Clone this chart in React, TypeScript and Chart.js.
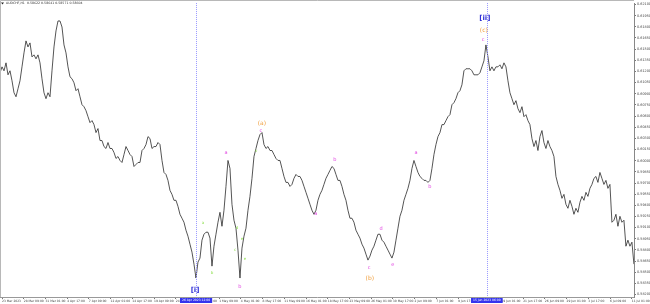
import React, { useEffect, useRef } from 'react';
import { Chart, registerables } from 'chart.js';

Chart.register(...registerables);

const SYMBOL_TITLE = 'AUDCHF,H1  0.58622 0.58641 0.58571 0.58604';

// time labels every 64 H1 bars, starting 23 Mar 2023 17:00 (bar 0)
const TIME_LABELS = [
  '23 Mar 2023', '28 Mar 09:00', '31 Mar 01:00', '4 Apr 17:00', '7 Apr 09:00', '12 Apr 01:00',
  '14 Apr 17:00', '19 Apr 09:00', '24 Apr 01:00', '26 Apr 17:00', '1 May 09:00', '4 May 01:00',
  '8 May 17:00', '11 May 09:00', '16 May 01:00', '18 May 17:00', '23 May 09:00', '26 May 01:00',
  '30 May 17:00', '2 Jun 09:00', '7 Jun 01:00', '9 Jun 17:00', '14 Jun 09:00', '19 Jun 01:00',
  '21 Jun 17:00', '26 Jun 09:00', '29 Jun 01:00', '3 Jul 17:00', '6 Jul 09:00', '11 Jul 01:00',
];
const BARS_PER_TIME_LABEL = 64;

// closing prices sampled every SAMPLE_STEP_BARS bars, first sample one step before bar 0
const SAMPLE_STEP_BARS = 5.894;
const PRICES = [
  0.61182, 0.61262, 0.61209, 0.61316, 0.61155, 0.61209, 0.61075, 0.60914, 0.60860, 0.60968,
  0.61075, 0.61262, 0.61450, 0.61611, 0.61530, 0.61584, 0.61396, 0.61423, 0.61370, 0.61423,
  0.61316, 0.61102, 0.60914, 0.60834, 0.60914, 0.60860, 0.61209, 0.61530, 0.61745, 0.61879,
  0.61879, 0.61798, 0.61557, 0.61450, 0.61262, 0.61128, 0.61102, 0.61048, 0.60941, 0.60968,
  0.60860, 0.60753, 0.60726, 0.60673, 0.60592, 0.60512, 0.60539, 0.60485, 0.60378, 0.60432,
  0.60271, 0.60271, 0.60190, 0.60164, 0.60244, 0.60164, 0.60164, 0.60110, 0.60030, 0.60056,
  0.60003, 0.59976, 0.60083, 0.60190, 0.60137, 0.60083, 0.60056, 0.59922, 0.59949, 0.59976,
  0.59976, 0.60137, 0.60164, 0.60217, 0.60324, 0.60298, 0.60164, 0.60190, 0.60190, 0.60244,
  0.60217, 0.60003, 0.59842, 0.59815, 0.59735, 0.59601, 0.59547, 0.59467, 0.59467, 0.59386,
  0.59279, 0.59226, 0.59172, 0.59065, 0.58984, 0.58877, 0.58770, 0.58609, 0.58422, 0.58636,
  0.58690, 0.58931, 0.59011, 0.59038, 0.59038, 0.58958, 0.58582, 0.58850, 0.59011, 0.59172,
  0.59306, 0.59118, 0.59333, 0.59654, 0.60003, 0.59896, 0.59413, 0.59199, 0.59092, 0.58797,
  0.58422, 0.58824, 0.58984, 0.59092, 0.59333, 0.59520, 0.59762, 0.60056, 0.60164, 0.60271,
  0.60351, 0.60378, 0.60217, 0.60164, 0.60190, 0.60137, 0.60137, 0.60083, 0.60030, 0.60003,
  0.60003, 0.59896, 0.59788, 0.59708, 0.59708, 0.59654, 0.59681, 0.59762, 0.59815, 0.59788,
  0.59788, 0.59735, 0.59654, 0.59574, 0.59494, 0.59413, 0.59333, 0.59279, 0.59333, 0.59467,
  0.59547, 0.59601, 0.59681, 0.59762, 0.59815, 0.59869, 0.59922, 0.59896, 0.59815, 0.59735,
  0.59735, 0.59654, 0.59547, 0.59467, 0.59333, 0.59226, 0.59226, 0.59172, 0.59065, 0.59011,
  0.58958, 0.58877, 0.58824, 0.58743, 0.58663, 0.58716, 0.58797, 0.58850, 0.58931, 0.59011,
  0.59011, 0.58931, 0.58904, 0.58850, 0.58797, 0.58743, 0.58690, 0.58770, 0.58931, 0.59092,
  0.59252, 0.59333, 0.59467, 0.59547, 0.59628, 0.59735, 0.59896, 0.60003, 0.59922, 0.59842,
  0.59788, 0.59762, 0.59735, 0.59735, 0.59708, 0.59735, 0.59896, 0.60083, 0.60217, 0.60324,
  0.60378, 0.60485, 0.60485, 0.60539, 0.60592, 0.60619, 0.60753, 0.60780, 0.60834, 0.60914,
  0.60941, 0.61021, 0.61209, 0.61236, 0.61236, 0.61236, 0.61209, 0.61155, 0.61155, 0.61155,
  0.61182, 0.61262, 0.61343, 0.61557, 0.61396, 0.61209, 0.61262, 0.61209, 0.61262, 0.61262,
  0.61289, 0.61236, 0.61316, 0.61262, 0.61075, 0.60914, 0.60834, 0.60753, 0.60807, 0.60700,
  0.60646, 0.60726, 0.60592, 0.60619, 0.60539, 0.60485, 0.60298, 0.60190, 0.60271, 0.60137,
  0.60324, 0.60405, 0.60244, 0.60164, 0.60271, 0.60190, 0.60137, 0.60056, 0.59788, 0.59681,
  0.59601, 0.59494, 0.59547, 0.59413, 0.59360, 0.59467, 0.59386, 0.59279, 0.59360, 0.59306,
  0.59440, 0.59520, 0.59467, 0.59574, 0.59520, 0.59628, 0.59681, 0.59762, 0.59788, 0.59708,
  0.59842, 0.59762, 0.59681, 0.59735, 0.59628, 0.59681, 0.59172, 0.59199, 0.59279, 0.59118,
  0.59252, 0.59172, 0.59199, 0.58850, 0.58931, 0.58850, 0.58904, 0.58609,
];

const PRICE_TICKS = [
  0.621, 0.6195, 0.618, 0.6165, 0.615, 0.6135, 0.612, 0.6105, 0.609, 0.6075, 0.606, 0.6045,
  0.603, 0.6015, 0.6, 0.5985, 0.597, 0.5955, 0.594, 0.5925, 0.591, 0.5895, 0.588, 0.5865,
  0.585, 0.5835, 0.582,
];

// vertical time markers (bar index) and their axis captions
const MARKER_BARS = [572, 1429];
const MARKER_CAPTIONS = ['26 Apr 2023 12:00', '15 Jun 2023 06:00'];

// Elliott wave labels
const WAVE_TEXT = ['[i]', '[ii]', '(c)', 'c', '(a)', 'c', 'v', 'a', 'a', 'b', 'c', 'd', 'e', 'e', 'b', 'a', 'b', 'c', '(b)', 'd', 'e', 'a', 'b'];
const WAVE_BAR = [569, 1423, 1420, 1418, 766, 763, 749, 660, 592, 619, 687, 693, 707, 716, 701, 925, 981, 1082, 1084, 1117, 1152, 1220, 1261];
const WAVE_PRICE = [0.58261, 0.61919, 0.61758, 0.61624, 0.60499, 0.60405, 0.60137, 0.60110, 0.59159, 0.58489, 0.58797, 0.59092, 0.58944, 0.58676, 0.58301, 0.59293, 0.60016, 0.58556, 0.58422, 0.59092, 0.58596, 0.60110, 0.59654];
const WAVE_DEGREE = ['primary', 'primary', 'intermediate', 'minor', 'intermediate', 'minor', 'minute', 'minor', 'minute', 'minute', 'minute', 'minute', 'minute', 'minute', 'minor', 'minor', 'minor', 'minor', 'intermediate', 'minor', 'minor', 'minor', 'minor'];

const DEGREE_STYLE: Record<string, { color: string; font: string }> = {
  primary: { color: '#2f2fd6', font: 'bold 7px "DejaVu Sans"' },
  intermediate: { color: '#f0a040', font: '6px "DejaVu Sans"' },
  minor: { color: '#e040e0', font: '5px "DejaVu Sans"' },
  minute: { color: '#8fe050', font: '4px "DejaVu Sans"' },
};

const overlayPlugin = {
  id: 'mt4Overlay',
  beforeDraw(chart: any) {
    const { ctx, width, height } = chart;
    ctx.save();
    ctx.fillStyle = '#ffffff';
    ctx.fillRect(0, 0, width, height);
    ctx.restore();
  },
  afterDatasetsDraw(chart: any) {
    const { ctx, chartArea } = chart;
    const xs = chart.scales.x;
    const ys = chart.scales.y;
    ctx.save();
    ctx.strokeStyle = '#9a9aff';
    ctx.lineWidth = 1;
    ctx.setLineDash([1, 1]);
    MARKER_BARS.forEach((b) => {
      const x = Math.round(xs.getPixelForValue(b)) + 0.5;
      ctx.beginPath();
      ctx.moveTo(x, chartArea.top);
      ctx.lineTo(x, chartArea.bottom);
      ctx.stroke();
    });
    ctx.setLineDash([]);
    ctx.textAlign = 'center';
    ctx.textBaseline = 'middle';
    WAVE_TEXT.forEach((t, i) => {
      const st = DEGREE_STYLE[WAVE_DEGREE[i]];
      ctx.font = st.font;
      ctx.fillStyle = st.color;
      ctx.fillText(t, xs.getPixelForValue(WAVE_BAR[i]), ys.getPixelForValue(WAVE_PRICE[i]));
    });
    ctx.restore();
  },
  afterDraw(chart: any) {
    const { ctx, chartArea } = chart;
    const xs = chart.scales.x;
    ctx.save();
    ctx.strokeStyle = '#b8b8b8';
    ctx.lineWidth = 1;
    ctx.beginPath();
    ctx.moveTo(chartArea.left + 0.5, chartArea.bottom);
    ctx.lineTo(chartArea.left + 0.5, 0.5);
    ctx.lineTo(chartArea.right, 0.5);
    ctx.stroke();
    ctx.fillStyle = '#222';
    ctx.beginPath();
    ctx.moveTo(1, 2.5);
    ctx.lineTo(4, 2.5);
    ctx.lineTo(2.5, 4.5);
    ctx.closePath();
    ctx.fill();
    ctx.font = '3.2px "DejaVu Sans"';
    ctx.textAlign = 'left';
    ctx.textBaseline = 'middle';
    ctx.fillStyle = '#333';
    ctx.fillText(SYMBOL_TITLE, 6, 3.6);
    ctx.font = '3px "DejaVu Sans"';
    ctx.textAlign = 'center';
    MARKER_BARS.forEach((b, i) => {
      const x = xs.getPixelForValue(b);
      const w = ctx.measureText(MARKER_CAPTIONS[i]).width + 4;
      ctx.fillStyle = '#3434ee';
      ctx.fillRect(x - w / 2, chartArea.bottom + 1, w, 5);
      ctx.fillStyle = '#ffffff';
      ctx.fillText(MARKER_CAPTIONS[i], x, chartArea.bottom + 3.6);
    });
    ctx.restore();
  },
};

export default function App() {
  const canvasRef = useRef<HTMLCanvasElement | null>(null);

  useEffect(() => {
    if (!canvasRef.current) return;
    const points = PRICES.map((p, i) => ({ x: (i - 1) * SAMPLE_STEP_BARS, y: p }));
    const chart = new Chart(canvasRef.current, {
      type: 'line',
      data: {
        datasets: [
          {
            data: points,
            borderColor: '#2a2a2a',
            borderWidth: 0.8,
            pointRadius: 0,
            tension: 0,
            fill: false,
          },
        ],
      },
      options: {
        animation: false,
        responsive: false,
        maintainAspectRatio: false,
        devicePixelRatio: 1,
        layout: { padding: { top: 2, left: 0, right: 0, bottom: 0 } },
        plugins: { legend: { display: false }, tooltip: { enabled: false }, title: { display: false } },
        scales: {
          x: {
            type: 'linear',
            position: 'bottom',
            min: -5.9,
            max: 1862.7,
            afterFit(s: any) {
              s.height = 7;
            },
            afterBuildTicks(s: any) {
              s.ticks = TIME_LABELS.map((_, i) => ({ value: i * BARS_PER_TIME_LABEL }));
            },
            ticks: {
              autoSkip: false,
              maxRotation: 0,
              minRotation: 0,
              align: 'start',
              padding: 0,
              color: '#444',
              font: { size: 3, family: '"DejaVu Sans"' },
              callback: (_v: any, i: number) => TIME_LABELS[i],
            },
            grid: { display: true, drawOnChartArea: false, drawTicks: true, tickLength: 2, color: '#777' },
            border: { display: true, color: '#999' },
          },
          y: {
            type: 'linear',
            position: 'right',
            min: 0.58167,
            max: 0.6212,
            afterFit(s: any) {
              s.width = 16;
            },
            afterBuildTicks(s: any) {
              s.ticks = PRICE_TICKS.map((v) => ({ value: v }));
            },
            ticks: {
              autoSkip: false,
              padding: 1,
              color: '#444',
              font: { size: 3.4, family: '"DejaVu Sans"' },
              callback: (v: any) => Number(v).toFixed(5),
            },
            grid: { display: true, drawOnChartArea: false, drawTicks: true, tickLength: 2, color: '#777' },
            border: { display: true, color: '#888' },
          },
        },
      } as any,
      plugins: [overlayPlugin],
    });
    return () => chart.destroy();
  }, []);

  return (
    <div style={{ position: 'absolute', left: 0, top: 0, width: 650, height: 304, background: '#fff' }}>
      <canvas ref={canvasRef} width={650} height={304} style={{ display: 'block' }} />
    </div>
  );
}
